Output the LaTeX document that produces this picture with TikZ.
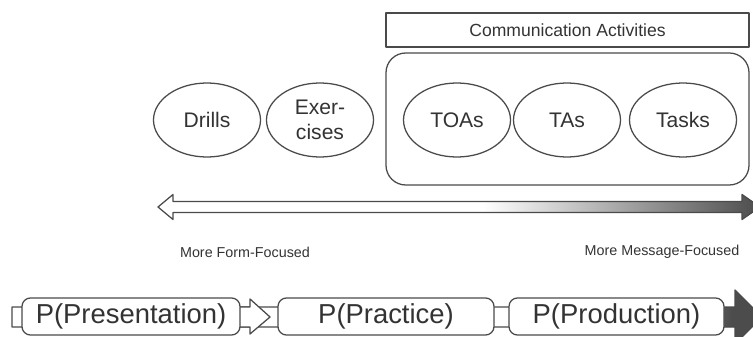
\documentclass[tikz,border=0pt]{standalone}
\usepackage{fontspec}
\setmainfont{Liberation Sans}
\usepackage{xcolor}
\usepackage{tikz}
\usetikzlibrary{shapes.geometric}
\definecolor{ink}{HTML}{333333}
\definecolor{edge}{HTML}{4A4A4A}
\definecolor{deep}{HTML}{4C4C4C}
\pgfdeclarehorizontalshading{msgShade}{100bp}{color(0bp)=(white); color(52bp)=(white); color(75bp)=(deep); color(100bp)=(deep)}
\pgfdeclarehorizontalshading{pppShade}{100bp}{color(0bp)=(white); color(60bp)=(white); color(73bp)=(deep); color(100bp)=(deep)}
\tikzset{
  outline/.style={draw=edge, line width=0.9pt, line join=round},
  actTitle/.style={outline, rectangle, minimum width=9.075cm, minimum height=0.85cm, text=ink, font=\fontsize{12.5}{14}\selectfont},
  actGroup/.style={outline, rectangle, rounded corners=14pt, minimum width=9.075cm, minimum height=3.3cm},
  activity/.style={outline, ellipse, minimum width=2.675cm, minimum height=1.85cm, inner sep=0pt, align=center, text=ink, font=\fontsize{15}{18}\selectfont},
  focusLbl/.style={text=ink, font=\fontsize{10.2}{12}\selectfont},
  stage/.style={outline, rectangle, rounded corners=6pt, fill=white, minimum height=0.925cm, inner sep=0pt, text=ink, font=\fontsize{19.5}{22}\selectfont},
}
\newcommand{\FocusArrowPts}{%
  \coordinate (formTip) at (3.95,3.225);
  \coordinate (msgTip) at (19.0,3.225);
}
\begin{document}
\begin{tikzpicture}
  \useasboundingbox (0,0) rectangle (18.825,8.4);
  \clip (0,0) rectangle (18.825,8.4);
  \FocusArrowPts

  % communication activities
  \node[actTitle] (comm) at (14.1875,7.65) {Communication Activities};
  \node[actGroup] (commGroup) at (14.1875,5.425) {};

  \node[activity] (drills) at (5.175,5.4) {Drills};
  \node[activity] (exercises) at (8.0,5.4) {Exer-\\cises};
  \node[activity] (toas) at (11.425,5.4) {TOAs};
  \node[activity] (tas) at (14.175,5.4) {TAs};
  \node[activity] (tasks) at (17.075,5.4) {Tasks};

  % form <-> message arrow
  \shade[outline, shading=msgShade]
    (formTip) -- ++(0.375,0.3125) -- ++(0,-0.175) -- (18.55,3.3625)
    -- ++(0,0.175) -- (msgTip) -- (18.55,2.9125) -- ++(0,0.175)
    -- (4.325,3.0875) -- ++(0,-0.175) -- cycle;

  \node[focusLbl] (formLbl) at (6.125,2.1) {More Form-Focused};
  \node[focusLbl] (msgLbl) at (16.55,2.1) {More Message-Focused};

  % PPP band
  \shade[outline, shading=pppShade]
    (0.3,0.725) -- (18.375,0.725) -- (18.375,1.15) -- (19.05,0.475)
    -- (18.375,-0.2) -- (18.375,0.225) -- (0.3,0.225) -- cycle;
  \filldraw[outline, fill=white]
    (6.0,0.725) -- (6.25,0.725) -- (6.25,0.925) -- (6.75,0.475)
    -- (6.25,0.05) -- (6.25,0.225) -- (6.0,0.225);

  \node[stage, minimum width=5.45cm] (pres) at (3.275,0.4875) {P(Presentation)};
  \node[stage, minimum width=5.4cm] (prac) at (9.65,0.4875) {P(Practice)};
  \node[stage, minimum width=5.375cm] (prod) at (15.4125,0.4875) {P(Production)};
\end{tikzpicture}
\end{document}
